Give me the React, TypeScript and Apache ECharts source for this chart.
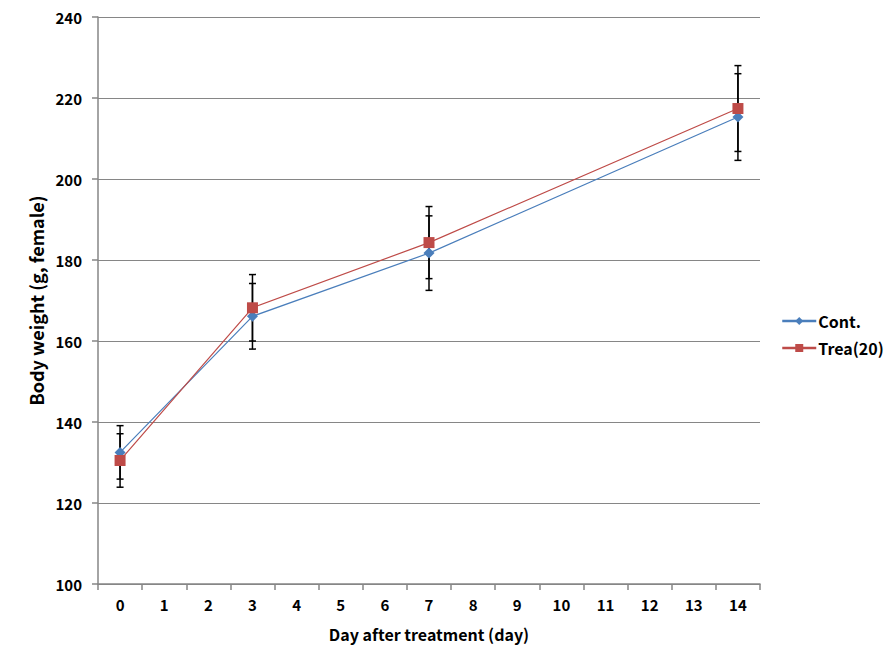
import React, { useEffect, useRef } from "react";
import * as echarts from "echarts";

const days = ["0", "1", "2", "3", "4", "5", "6", "7", "8", "9", "10", "11", "12", "13", "14"];
const measuredDays = ["0", "3", "7", "14"];
const contMean = [132.5, 166.1, 181.7, 215.3];
const contErr = [6.6, 8.1, 9.2, 10.7];
const treaMean = [130.5, 168.2, 184.3, 217.4];
const treaErr = [6.6, 8.2, 8.9, 10.6];
const yTicks = { min: 100, max: 240, interval: 20 };

const FONT = "'Noto Sans CJK KR', 'Noto Sans', sans-serif";

function errData(mean: number[], err: number[]) {
  return measuredDays.map((d, i) => [d, mean[i] - err[i], mean[i] + err[i]]);
}

function errorSeries(name: string, mean: number[], err: number[]) {
  return {
    type: "custom",
    name: name + "_err",
    z: 1,
    silent: true,
    renderItem: (params: any, api: any) => {
      const x = api.value(0);
      const lo = api.coord([x, api.value(1)]);
      const hi = api.coord([x, api.value(2)]);
      const hw = 3.5;
      const style = { stroke: "#000", lineWidth: 1.5 };
      return {
        type: "group",
        children: [
          { type: "line", shape: { x1: lo[0], y1: lo[1], x2: hi[0], y2: hi[1] }, style },
          { type: "line", shape: { x1: lo[0] - hw, y1: lo[1], x2: lo[0] + hw, y2: lo[1] }, style },
          { type: "line", shape: { x1: hi[0] - hw, y1: hi[1], x2: hi[0] + hw, y2: hi[1] }, style },
        ],
      };
    },
    encode: { x: 0, y: [1, 2] },
    data: errData(mean, err),
  };
}

export default function App() {
  const ref = useRef<HTMLDivElement>(null);
  useEffect(() => {
    if (!ref.current) return;
    const chart = echarts.init(ref.current, null, { renderer: "svg" });
    chart.setOption({
      animation: false,
      backgroundColor: "#fff",
      textStyle: { fontFamily: FONT },
      grid: { left: 98, right: 125, top: 17, bottom: 82, containLabel: false },
      legend: {
        orient: "vertical",
        left: 776,
        top: 308,
        itemGap: 11,
        itemWidth: 34,
        itemHeight: 10,
        lineStyle: { width: 2.5 },
        data: ["Cont.", "Trea(20)"],
        textStyle: { fontFamily: FONT, fontWeight: "bold", fontSize: 16, color: "#000", padding: [0, 0, 0, -3] },
      },
      xAxis: {
        type: "category",
        data: days,
        boundaryGap: true,
        name: "Day after treatment (day)",
        nameLocation: "middle",
        nameGap: 42,
        nameTextStyle: { fontFamily: FONT, fontWeight: "bold", fontSize: 16, color: "#000" },
        axisLine: { lineStyle: { color: "#868686", width: 1.5 } },
        axisTick: { show: true, length: 6, alignWithLabel: false, lineStyle: { color: "#868686", width: 1.5 } },
        axisLabel: { fontFamily: FONT, fontWeight: "bold", fontSize: 15, color: "#000", margin: 13 },
        splitLine: { show: false },
      },
      yAxis: {
        type: "value",
        min: yTicks.min,
        max: yTicks.max,
        interval: yTicks.interval,
        name: "Body weight (g, female)",
        nameLocation: "middle",
        nameGap: 53,
        nameTextStyle: { fontFamily: FONT, fontWeight: "bold", fontSize: 18, color: "#000" },
        axisLine: { show: true, lineStyle: { color: "#868686", width: 1.5 } },
        axisTick: { show: true, length: 6, lineStyle: { color: "#868686", width: 1.5 } },
        axisLabel: { fontFamily: FONT, fontWeight: "bold", fontSize: 15, color: "#000", margin: 16 },
        splitLine: { show: true, lineStyle: { color: "#868686", width: 1 } },
      },
      series: [
        errorSeries("Cont.", contMean, contErr),
        errorSeries("Trea(20)", treaMean, treaErr),
        {
          type: "line",
          name: "Cont.",
          z: 3,
          data: measuredDays.map((d, i) => [d, contMean[i]]),
          symbol: "diamond",
          symbolSize: 11,
          lineStyle: { color: "#4a7ebb", width: 1.2 },
          itemStyle: { color: "#4a7ebb" },
        },
        {
          type: "line",
          name: "Trea(20)",
          z: 4,
          data: measuredDays.map((d, i) => [d, treaMean[i]]),
          symbol: "rect",
          symbolSize: 11,
          lineStyle: { color: "#be4b48", width: 1.2 },
          itemStyle: { color: "#be4b48" },
        },
      ],
    });
    return () => chart.dispose();
  }, []);
  return <div ref={ref} style={{ width: 885, height: 666, position: "absolute", left: 0, top: 0 }} />;
}
